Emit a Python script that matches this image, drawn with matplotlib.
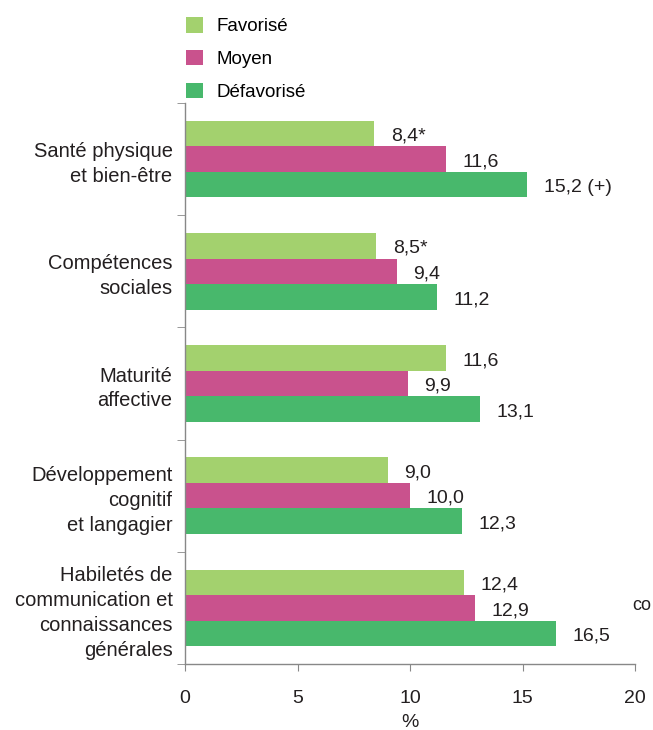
import matplotlib.pyplot as plt
import numpy as np

plt.rcParams['font.family'] = ['Liberation Sans', 'DejaVu Sans']

categories = ['Santé physique\net bien-être', 'Compétences\nsociales', 'Maturité\naffective',
              'Développement\ncognitif\net langagier',
              'Habiletés de\ncommunication et\nconnaissances\ngénérales']
series = ['Favorisé', 'Moyen', 'Défavorisé']
favorise = [8.4, 8.5, 11.6, 9.0, 12.4]
moyen = [11.6, 9.4, 9.9, 10.0, 12.9]
defavorise = [15.2, 11.2, 13.1, 12.3, 16.5]
labels_fav = ['8,4*', '8,5*', '11,6', '9,0', '12,4']
labels_moy = ['11,6', '9,4', '9,9', '10,0', '12,9']
labels_def = ['15,2 (+)', '11,2', '13,1', '12,3', '16,5']
colors = ['#A3D16E', '#C9528D', '#48B86C']

fig = plt.figure(figsize=(6.53, 7.3), dpi=100)
ax = fig.add_axes([185 / 653, 1 - 664 / 730, 450 / 653, 561 / 730])

n = len(categories)
ypos = np.arange(n)[::-1]
h = 0.228
offsets = [h, 0, -h]
values = [favorise, moyen, defavorise]
texts = [labels_fav, labels_moy, labels_def]

for vals, labs, off, col, name in zip(values, texts, offsets, colors, series):
    ax.barh(ypos + off, vals, height=h, color=col, label=name)
    for y, v, t in zip(ypos, vals, labs):
        ax.annotate(t, (v, y + off), xytext=(12, -2), textcoords='offset points',
                    ha='left', va='center', fontsize=14, color='#231F20')

ax.set_xlim(0, 20)
ax.set_ylim(-0.5, n - 0.5)
ax.set_xticks([0, 5, 10, 15, 20])
ax.set_xticklabels(['0', '5', '10', '15', '20'], fontsize=14, color='#231F20')
ax.set_yticks(ypos)
ax.set_yticklabels(categories, fontsize=14.5, color='#231F20', linespacing=1.4)
ax.tick_params(axis='y', which='major', length=0, pad=9)
ax.set_yticks(np.arange(-0.5, n, 1.0), minor=True)
ax.tick_params(axis='y', which='minor', length=6, direction='out', color='#888888')
ax.tick_params(axis='x', length=5, color='#888888', pad=14)
ax.set_xlabel('%', fontsize=14, color='#231F20', labelpad=5)

for s in ['top', 'right']:
    ax.spines[s].set_visible(False)
for s in ['left', 'bottom']:
    ax.spines[s].set_color('#888888')
    ax.spines[s].set_linewidth(1.0)

fig.legend(loc='upper left', bbox_to_anchor=(186 / 653, 1 - 17 / 730), frameon=False,
           fontsize=13.5, handlelength=0.9, handleheight=0.9, labelspacing=0.78,
           handletextpad=0.7, borderpad=0, borderaxespad=0)

fig.text(632 / 653, 1 - 605 / 730, 'co', fontsize=13, color='#231F20', va='center')

fig.savefig('out.png', dpi=100)
